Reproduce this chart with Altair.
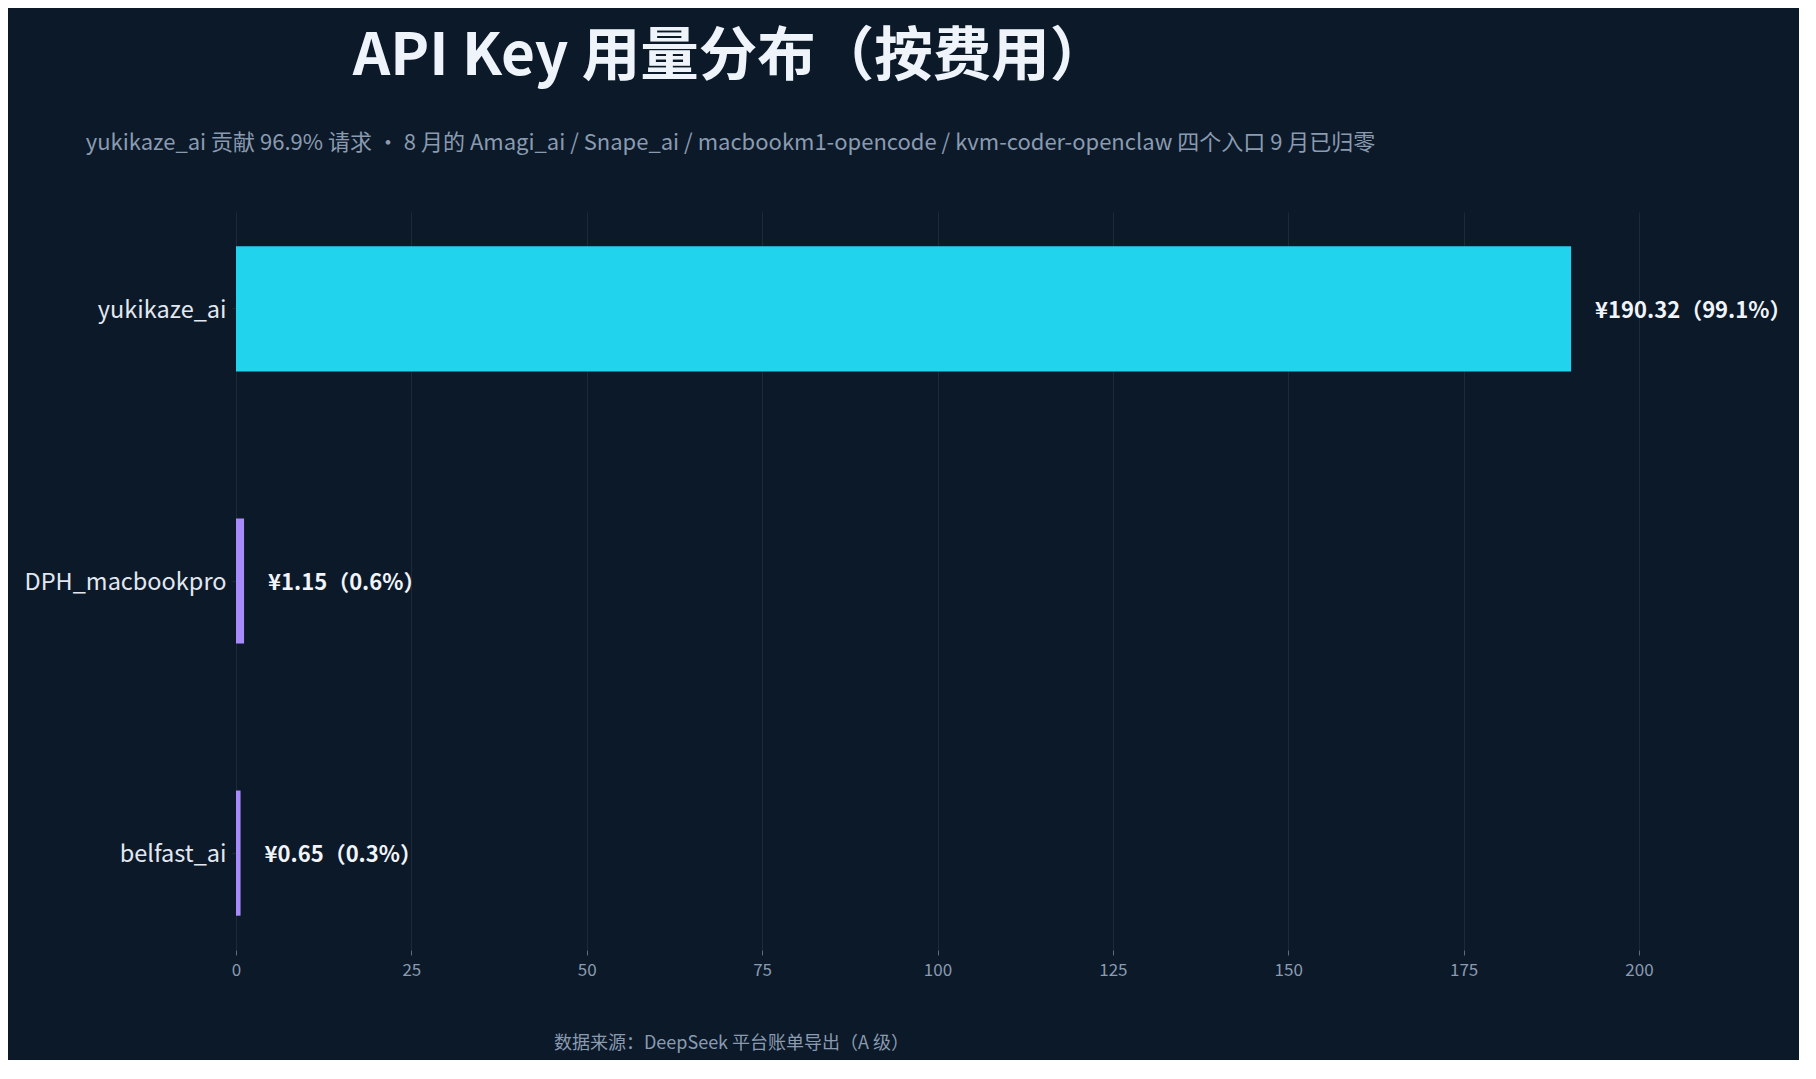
import altair as alt
import pandas as pd

FONT = "Noto Sans CJK SC"
BG = "#0c1929"

# data
KEYS = ["yukikaze_ai", "DPH_macbookpro", "belfast_ai"]
COST = [190.32, 1.15, 0.65]
SHARE = [99.1, 0.6, 0.3]
BAR_COLORS = ["#22d3ee", "#a78bfa", "#a78bfa"]
X_TICKS = [0, 25, 50, 75, 100, 125, 150, 175, 200]

TITLE = "API Key 用量分布（按费用）"
SUBTITLE = ("yukikaze_ai 贡献 96.9% 请求 · 8 月的 Amagi_ai / Snape_ai / "
            "macbookm1-opencode / kvm-coder-openclaw 四个入口 9 月已归零")
SOURCE = "数据来源：DeepSeek 平台账单导出（A 级）"

df = pd.DataFrame({"key": KEYS, "cost": COST, "share": SHARE})
df["label"] = [f"¥{c:.2f}（{s:.1f}%）" for c, s in zip(COST, SHARE)]

base = alt.Chart(df).encode(
    y=alt.Y("key:N", sort=KEYS, title=None,
            scale=alt.Scale(paddingInner=0.54, paddingOuter=0.126),
            axis=alt.Axis(labelFont=FONT, labelFontSize=23.5, labelColor="#e2e8f0",
                          labelPadding=6, labelLimit=400, labelOffset=2, tickSize=4,
                          tickColor="#1e293b", domain=False, grid=False)),
)

bars = base.mark_bar().encode(
    x=alt.X("cost:Q", title=SOURCE,
            scale=alt.Scale(domain=[0, 200], nice=False),
            axis=alt.Axis(values=X_TICKS, labelFont=FONT, labelFontSize=17,
                          labelColor="#8a9bb0", labelPadding=7, labelFlush=False,
                          tickSize=5, tickColor="#5b6b80", domain=False, grid=True,
                          gridColor="#1c2a3c", gridWidth=1,
                          titleFont=FONT, titleFontSize=18, titleFontWeight="normal",
                          titleColor="#8a9bb0", titleX=495, titleY=93,
                          titleAlign="center", titleBaseline="middle")),
    color=alt.Color("key:N", scale=alt.Scale(domain=KEYS, range=BAR_COLORS), legend=None),
)

labels = base.mark_text(align="left", baseline="middle", dx=24, dy=2, font=FONT,
                        fontSize=22, fontWeight="bold", color="#f1f5f9").encode(
    x="cost:Q", text="label:N")

chart = (bars + labels).properties(
    width=1403, height=738,
    background=BG,
    padding={"left": 228, "top": 204, "right": 160, "bottom": 110},
    autosize=alt.AutoSizeParams(type="none"),
    title=alt.TitleParams(TITLE, subtitle=SUBTITLE, anchor="middle", dx=-207,
                          font=FONT, fontSize=58.5, fontWeight="bold", color="#eef4fa",
                          subtitleFont=FONT, subtitleFontSize=22, subtitleColor="#8a9bb0",
                          subtitlePadding=46, offset=57),
).configure_view(stroke=None)

chart.save("out.html", embed_options={"renderer": "svg", "actions": False})
